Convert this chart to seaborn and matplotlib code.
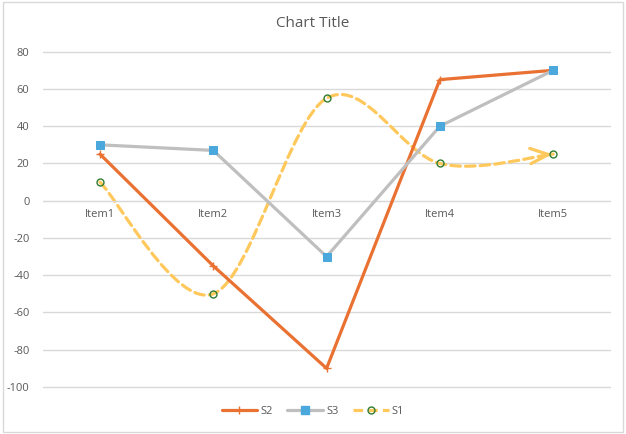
import numpy as np
import pandas as pd
import matplotlib
matplotlib.use("Agg")
import matplotlib.pyplot as plt
import seaborn as sns
from matplotlib.path import Path
from matplotlib.patches import FancyArrowPatch, Rectangle
from matplotlib.lines import Line2D

# ---- data ----
items = ["Item1", "Item2", "Item3", "Item4", "Item5"]
s1 = [10, -50, 55, 20, 25]
s2 = [25, -35, -90, 65, 70]
s3 = [30, 27, -30, 40, 70]

# ---- style ----
TEXT = "#595959"
GRID = "#D9D9D9"
ORANGE = "#E97132"
GRAY = "#BFBFBF"
BLUE = "#4AA8DD"
YELLOW = "#FFC85C"
GREEN = "#2E7D32"
LW = 2.3
DASH = (0, (3.0, 1.6))

sns.set_style("white")
plt.rcParams["font.family"] = ["Open Sans", "DejaVu Sans"]

df = pd.DataFrame({"pos": np.arange(len(items)), "item": items,
                   "S1": s1, "S2": s2, "S3": s3})

fig = plt.figure(figsize=(6.26, 4.34), dpi=100)
ax = fig.add_axes([0.0692, 0.1083, 0.905, 0.7726])

# smoothed S1 (excel style bezier through the points)
pts = df[["pos", "S1"]].to_numpy(dtype=float)
n = len(pts)
verts = [pts[0]]
codes = [Path.MOVETO]
for i in range(n - 1):
    p_prev = pts[max(i - 1, 0)]
    p0, p1 = pts[i], pts[i + 1]
    p_next = pts[min(i + 2, n - 1)]
    c1 = p0 + (p1 - p_prev) / 6
    c2 = p1 - (p_next - p0) / 6
    verts += [c1, c2, p1]
    codes += [Path.CURVE4] * 3
curve = FancyArrowPatch(path=Path(verts, codes), arrowstyle="-", color=YELLOW,
                        lw=LW, linestyle=DASH, zorder=2)
ax.add_patch(curve)
end_dir = pts[-1] - verts[-2]
ax.annotate("", xy=pts[-1] - 0.04 * end_dir, xytext=pts[-1] - 0.1 * end_dir,
            arrowprops=dict(arrowstyle="->,head_length=1.3,head_width=0.55",
                            color=YELLOW, lw=LW, shrinkA=0, shrinkB=0), zorder=2)

sns.lineplot(data=df, x="pos", y="S2", ax=ax, color=ORANGE, lw=LW,
             marker="+", markersize=6, markeredgewidth=1,
             markeredgecolor=ORANGE, zorder=3)
sns.lineplot(data=df, x="pos", y="S3", ax=ax, color=GRAY, lw=LW,
             marker="s", markersize=6, markerfacecolor=BLUE,
             markeredgecolor=BLUE, zorder=3)
ax.plot(df["pos"], df["S1"], linestyle="none", marker="o", markersize=5,
        markerfacecolor="none", markeredgecolor=GREEN, markeredgewidth=1,
        zorder=4)

# axes
ax.set_xlim(-0.5, len(items) - 0.5)
ax.set_ylim(-100, 80)
ax.set_yticks(range(-100, 81, 20))
ax.set_yticklabels([str(v) for v in range(-100, 81, 20)])
ax.set_xticks(df["pos"])
ax.set_xticklabels(items)
ax.set_xlabel("")
ax.set_ylabel("")
ax.grid(axis="y", color=GRID, lw=1)
for gl in ax.get_ygridlines():
    gl.set_clip_on(False)
ax.set_axisbelow(True)
for side in ["top", "right", "left"]:
    ax.spines[side].set_visible(False)
ax.spines["bottom"].set_position(("data", 0))
ax.spines["bottom"].set_color(GRID)
ax.tick_params(axis="both", length=0, colors=TEXT, labelsize=8)
ax.tick_params(axis="x", pad=6)
ax.tick_params(axis="y", pad=10)

fig.text(0.5, 0.947, "Chart Title", ha="center", va="center",
         fontsize=11, color=TEXT)

handles = [
    Line2D([0], [0], color=ORANGE, lw=LW, marker="+", markersize=6,
           markeredgecolor=ORANGE, markeredgewidth=1),
    Line2D([0], [0], color=GRAY, lw=LW, marker="s", markersize=6,
           markerfacecolor=BLUE, markeredgecolor=BLUE),
    Line2D([0], [0], color=YELLOW, lw=LW, linestyle=DASH,
           marker="o", markersize=5, markerfacecolor="none",
           markeredgecolor=GREEN),
]
fig.legend(handles, ["S2", "S3", "S1"], loc="center", ncol=3,
           bbox_to_anchor=(0.5, 0.052), frameon=False, fontsize=8,
           labelcolor=TEXT, handlelength=3.2, columnspacing=1.3,
           handletextpad=0.3)

fig.add_artist(Rectangle((0.004, 0.004), 0.992, 0.992, transform=fig.transFigure,
                         fill=False, edgecolor=GRID, lw=1))

fig.savefig("out.png", dpi=100)
